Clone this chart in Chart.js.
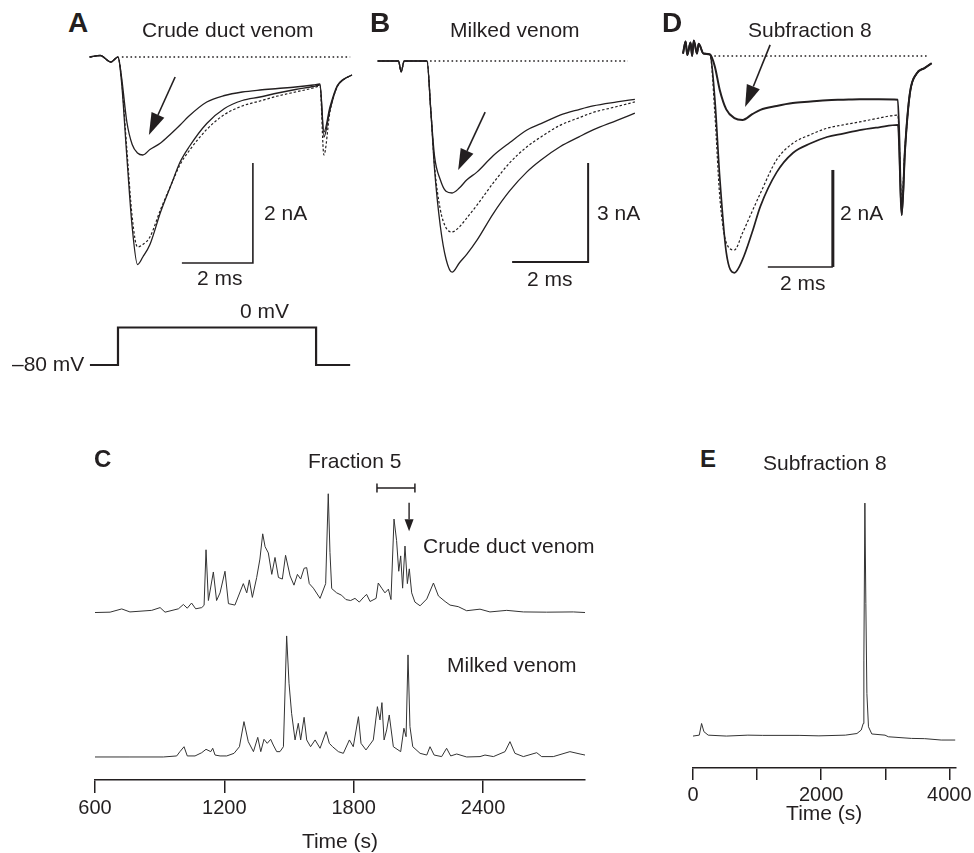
<!DOCTYPE html>
<html>
<head>
<meta charset="utf-8">
<script src="https://cdn.jsdelivr.net/npm/chart.js@4.4.1/dist/chart.umd.min.js"></script>
<style>
  html, body { margin: 0; padding: 0; background: #fff; }
  #fig { position: relative; width: 974px; height: 853px; overflow: hidden; background: #fff;
         font-family: "Liberation Sans", Arial, Helvetica, sans-serif; color: #231f20; }
  #fig canvas { position: absolute; }
  .lbl { position: absolute; font-size: 21px; line-height: 1; white-space: nowrap; }
  .pnl { position: absolute; font-weight: bold; line-height: 1; }
</style>
</head>
<body>
<div id="fig">
  <canvas id="cA" width="280" height="250" style="left:80px;top:40px"></canvas>
  <canvas id="cB" width="270" height="250" style="left:370px;top:40px"></canvas>
  <canvas id="cD" width="280" height="260" style="left:670px;top:30px"></canvas>
  <canvas id="cStep" width="280" height="80" style="left:80px;top:300px"></canvas>
  <canvas id="cCrude" width="540" height="155" style="left:60px;top:470px"></canvas>
  <canvas id="cMilk" width="540" height="230" style="left:60px;top:625px"></canvas>
  <canvas id="cE" width="305" height="347" style="left:670px;top:480px"></canvas>

  <div class="pnl" style="left:68px;top:9px;font-size:28px">A</div>
  <div class="pnl" style="left:370px;top:9px;font-size:28px">B</div>
  <div class="pnl" style="left:662px;top:9px;font-size:28px">D</div>
  <div class="pnl" style="left:94px;top:447px;font-size:24px">C</div>
  <div class="pnl" style="left:700px;top:447px;font-size:24px">E</div>

  <div class="lbl" style="left:142px;top:19px">Crude duct venom</div>
  <div class="lbl" style="left:450px;top:19px">Milked venom</div>
  <div class="lbl" style="left:748px;top:19px">Subfraction 8</div>
  <div class="lbl" style="left:264px;top:202px">2 nA</div>
  <div class="lbl" style="left:197px;top:267px">2 ms</div>
  <div class="lbl" style="left:597px;top:202px">3 nA</div>
  <div class="lbl" style="left:527px;top:268px">2 ms</div>
  <div class="lbl" style="left:840px;top:202px">2 nA</div>
  <div class="lbl" style="left:780px;top:272px">2 ms</div>
  <div class="lbl" style="left:240px;top:300px">0 mV</div>
  <div class="lbl" style="left:12px;top:353px">–80 mV</div>
  <div class="lbl" style="left:308px;top:450px">Fraction 5</div>
  <div class="lbl" style="left:423px;top:535px">Crude duct venom</div>
  <div class="lbl" style="left:447px;top:654px">Milked venom</div>
  <div class="lbl" style="left:763px;top:452px">Subfraction 8</div>
</div>

<script>
// ---- currents (nA) vs time (ms) after the step to 0 mV ----
const timeA  = [-0.8, -0.5, -0.2, 0, 0.1, 0.25, 0.4, 0.55, 0.7, 0.9, 1.2, 1.5, 1.75, 2.0, 2.5, 3.0, 3.5, 4.0, 4.5, 5.0, 5.5, 5.69, 5.8, 5.97, 6.17, 6.34, 6.59];
const ctrlA  = [0, 0.03, -0.1, 0, -0.5, -2.0, -3.4, -4.15, -4.0, -3.75, -3.1, -2.55, -2.1, -1.8, -1.33, -1.03, -0.87, -0.8, -0.72, -0.65, -0.59, -0.56, -1.6, -1.06, -0.6, -0.46, -0.36];
const washA  = [0, 0.03, -0.1, 0, -0.45, -1.85, -3.2, -3.8, -3.75, -3.6, -3.05, -2.55, -2.15, -1.88, -1.45, -1.15, -0.98, -0.88, -0.78, -0.7, -0.62, -0.58, -1.96, -1.1, -0.6, -0.46, -0.36];
const toxinA = [0, 0.03, -0.1, 0, -0.4, -1.3, -1.75, -1.92, -1.96, -1.85, -1.72, -1.53, -1.36, -1.18, -0.9, -0.77, -0.7, -0.66, -0.63, -0.6, -0.56, -0.54, -1.5, -1.0, -0.58, -0.45, -0.36];

const timeB  = [-1.3, -0.75, -0.68, -0.6, 0, 0.1, 0.2, 0.35, 0.5, 0.66, 0.85, 1.05, 1.32, 1.74, 2.18, 2.63, 3.0, 3.5, 4.0, 4.37, 5.0, 5.47];
const ctrlB  = [0, 0, -0.33, 0, 0, -1.5, -3.3, -5.0, -6.0, -6.4, -6.12, -5.85, -5.42, -4.63, -3.93, -3.36, -3.0, -2.6, -2.3, -2.09, -1.8, -1.58];
const washB  = [0, 0, -0.33, 0, 0, -1.5, -3.2, -4.5, -5.05, -5.18, -5.03, -4.75, -4.36, -3.7, -3.08, -2.6, -2.3, -1.95, -1.72, -1.56, -1.38, -1.24];
const toxinB = [0, 0, -0.33, 0, 0, -1.5, -2.9, -3.6, -3.95, -4.0, -3.85, -3.6, -3.36, -2.87, -2.47, -2.09, -1.9, -1.64, -1.47, -1.36, -1.24, -1.16];

const timeD  = [-0.83, -0.75, -0.7, -0.6, -0.55, -0.5, -0.4, -0.35, -0.2, 0, 0.15, 0.3, 0.5, 0.75, 1.0, 1.3, 1.55, 2.05, 2.55, 3.1, 3.6, 4.1, 4.6, 5.2, 5.78, 5.9, 6.0, 6.15, 6.36, 6.6, 6.82];
const ctrlD  = [0.05, 0.3, 0.02, 0.28, 0, 0.32, 0.05, 0.25, 0.05, 0.03, -0.9, -2.5, -4.05, -4.47, -4.2, -3.63, -3.1, -2.4, -2.0, -1.8, -1.67, -1.6, -1.53, -1.47, -1.42, -3.28, -1.94, -0.77, -0.36, -0.25, -0.15];
const washD  = [0.05, 0.3, 0.02, 0.28, 0, 0.32, 0.05, 0.25, 0.05, 0.03, -1.2, -2.9, -3.85, -4.0, -3.65, -3.2, -2.83, -2.14, -1.8, -1.62, -1.49, -1.42, -1.36, -1.28, -1.22, -3.0, -1.9, -0.8, -0.36, -0.25, -0.15];
const toxinD = [0.05, 0.3, 0.02, 0.28, 0, 0.32, 0.05, 0.25, 0.05, 0.03, -0.22, -0.7, -1.1, -1.28, -1.32, -1.2, -1.11, -1.03, -0.97, -0.94, -0.91, -0.9, -0.89, -0.89, -0.9, -3.28, -1.94, -0.77, -0.36, -0.25, -0.15];

// voltage protocol (ms, mV)
const stepTime = [-0.79, 0, 0, 5.58, 5.58, 6.54];
const stepVolt = [-80, -80, 0, 0, -80, -80];

// ---- chromatograms: absorbance (arbitrary units) vs time (s) ----
const crudeTime = [600, 670, 724, 762, 863, 902, 925, 987, 1010, 1028, 1048, 1067, 1095, 1106, 1115, 1126, 1149, 1164, 1180, 1203, 1219, 1249, 1288, 1304, 1316, 1330, 1350, 1365, 1378, 1389, 1404, 1420, 1435, 1451, 1469, 1484, 1505, 1523, 1539, 1554, 1570, 1582, 1594, 1613, 1644, 1670, 1682, 1690, 1698, 1721, 1744, 1764, 1786, 1806, 1826, 1848, 1860, 1876, 1904, 1914, 1930, 1945, 1961, 1973, 1987, 1999, 2009, 2018, 2027, 2038, 2049, 2058, 2069, 2084, 2108, 2139, 2170, 2193, 2224, 2247, 2285, 2324, 2386, 2432, 2510, 2587, 2695, 2819, 2873];
const crudeAbs  = [0, 0.003, 0.03, 0.005, 0.018, 0.041, 0.003, 0.031, 0.067, 0.036, 0.079, 0.031, 0.041, 0.06, 0.523, 0.1, 0.338, 0.1, 0.164, 0.344, 0.074, 0.062, 0.241, 0.164, 0.272, 0.126, 0.292, 0.446, 0.656, 0.549, 0.497, 0.318, 0.459, 0.292, 0.279, 0.477, 0.305, 0.228, 0.318, 0.279, 0.369, 0.374, 0.241, 0.203, 0.118, 0.241, 0.99, 0.5, 0.2, 0.164, 0.144, 0.108, 0.1, 0.118, 0.087, 0.131, 0.151, 0.092, 0.118, 0.246, 0.203, 0.164, 0.195, 0.108, 0.779, 0.6, 0.344, 0.472, 0.203, 0.554, 0.241, 0.364, 0.164, 0.087, 0.056, 0.113, 0.246, 0.138, 0.092, 0.062, 0.049, 0.015, 0.028, 0.005, 0.018, 0.005, 0.003, 0.005, 0];

const milkTime = [600, 762, 917, 979, 994, 1013, 1028, 1064, 1095, 1115, 1137, 1146, 1157, 1180, 1211, 1245, 1270, 1291, 1311, 1335, 1355, 1369, 1384, 1399, 1415, 1427, 1443, 1458, 1474, 1489, 1500, 1512, 1528, 1543, 1554, 1570, 1582, 1600, 1621, 1644, 1672, 1687, 1702, 1729, 1752, 1780, 1798, 1822, 1834, 1857, 1891, 1910, 1922, 1931, 1941, 1953, 1965, 1984, 2018, 2033, 2043, 2052, 2061, 2074, 2108, 2139, 2154, 2173, 2208, 2231, 2250, 2278, 2324, 2386, 2409, 2448, 2502, 2525, 2548, 2587, 2649, 2672, 2726, 2803, 2850, 2873];
const milkAbs  = [0, 0, 0, 0.008, 0.041, 0.079, 0.008, 0.008, 0.033, 0.059, 0.041, 0.067, 0.015, 0.008, 0.008, 0.028, 0.079, 0.272, 0.118, 0.041, 0.151, 0.041, 0.136, 0.105, 0.136, 0.092, 0.041, 0.041, 0.079, 0.931, 0.567, 0.336, 0.131, 0.259, 0.131, 0.305, 0.131, 0.079, 0.131, 0.067, 0.195, 0.105, 0.079, 0.041, 0.028, 0.131, 0.079, 0.31, 0.105, 0.054, 0.131, 0.387, 0.285, 0.418, 0.131, 0.208, 0.323, 0.079, 0.041, 0.221, 0.156, 0.785, 0.233, 0.079, 0.028, 0.015, 0.079, 0.015, 0.003, 0.067, 0.008, 0.023, 0, 0.003, 0.015, 0.003, 0.041, 0.118, 0.028, 0.003, 0.033, 0.003, 0.003, 0.041, 0.023, 0.015];

const subTime = [0, 98, 134, 170, 237, 521, 856, 1088, 1655, 1965, 2377, 2558, 2625, 2656, 2666, 2682, 2697, 2713, 2738, 2790, 2996, 3048, 3409, 3615, 3873, 4095];
const subAbs  = [0, 0.004, 0.054, 0.019, 0.004, 0, 0.004, 0.003, 0.003, 0.001, 0.004, 0.011, 0.026, 0.054, 0.326, 1.0, 0.569, 0.183, 0.04, 0.009, 0.004, -0.003, -0.01, -0.011, -0.017, -0.017];

// tick marks on the time axes
const ticksC = [600, 1200, 1800, 2400];
const ticksE = [0, 1000, 2000, 3000, 4000];
const labelledE = [0, 2000, 4000];

const ink = '#231f20';
const fontFamily = '"Liberation Sans", Arial, Helvetica, sans-serif';

function pts(xs, ys) {
  return xs.map((x, i) => ({ x: x, y: ys[i] }));
}

// arrows given in data units of the chart they sit in
const arrowPlugin = {
  id: 'arrows',
  afterDatasetsDraw(chart, args, opts) {
    const items = opts.items || [];
    const ctx = chart.ctx, sx = chart.scales.x, sy = chart.scales.y;
    ctx.save();
    items.forEach(a => {
      const x0 = sx.getPixelForValue(a.from[0]), y0 = sy.getPixelForValue(a.from[1]);
      const x1 = sx.getPixelForValue(a.to[0]), y1 = sy.getPixelForValue(a.to[1]);
      const ang = Math.atan2(y1 - y0, x1 - x0);
      const bx = x1 - a.head * Math.cos(ang), by = y1 - a.head * Math.sin(ang);
      ctx.strokeStyle = ink;
      ctx.fillStyle = ink;
      ctx.lineWidth = a.lw || 1.6;
      ctx.beginPath(); ctx.moveTo(x0, y0); ctx.lineTo(bx, by); ctx.stroke();
      ctx.beginPath();
      ctx.moveTo(x1, y1);
      ctx.lineTo(bx + a.half * Math.sin(ang), by - a.half * Math.cos(ang));
      ctx.lineTo(bx - a.half * Math.sin(ang), by + a.half * Math.cos(ang));
      ctx.closePath(); ctx.fill();
    });
    ctx.restore();
  }
};
Chart.register(arrowPlugin);

function baseOptions(xr, yr, pad) {
  return {
    responsive: false,
    animation: false,
    events: [],
    layout: { padding: pad || 0 },
    plugins: { legend: { display: false }, tooltip: { enabled: false }, arrows: { items: [] } },
    elements: { point: { radius: 0 }, line: { borderColor: ink, borderWidth: 1.3 } },
    scales: {
      x: { type: 'linear', min: xr[0], max: xr[1], display: false },
      y: { type: 'linear', min: yr[0], max: yr[1], display: false }
    }
  };
}

function trace(data, extra) {
  return Object.assign({ data: data, borderColor: ink, borderWidth: 1.3, pointRadius: 0,
    cubicInterpolationMode: 'monotone', fill: false }, extra || {});
}
const dashed = { borderDash: [2.5, 2], borderWidth: 1.2 };
const zeroLine = { borderDash: [1.6, 2.7], borderWidth: 1.6, cubicInterpolationMode: 'default' };

// scale bar: corner (t, i), lengths dt (ms) and di (nA)
function scaleBar(t, i, dt, di, w) {
  return trace([{ x: t - dt, y: i }, { x: t, y: i }, { x: t, y: i + di }],
    { borderWidth: w || 1.6, cubicInterpolationMode: 'default', borderJoinStyle: 'miter' });
}

// ---- panel A ----
const optA = baseOptions([-1.070, 6.817], [-4.66, 0.34]);
optA.plugins.arrows.items = [{ from: [1.61, -0.40], to: [0.87, -1.56], head: 22, half: 7 }];
new Chart(document.getElementById('cA'), {
  type: 'line',
  data: { datasets: [
    trace([{ x: 0.11, y: 0 }, { x: 6.54, y: 0 }], zeroLine),
    trace(pts(timeA, washA), dashed),
    trace(pts(timeA, ctrlA)),
    trace(pts(timeA, toxinA)),
    scaleBar(3.80, -4.12, 2, 2, 1.6)
  ] },
  options: optA
});

// ---- panel B ----
const optB = baseOptions([-1.5, 5.605], [-6.939, 0.636]);
optB.plugins.arrows.items = [{ from: [1.53, -1.55], to: [0.82, -3.30], head: 21, half: 7 }];
new Chart(document.getElementById('cB'), {
  type: 'line',
  data: { datasets: [
    trace([{ x: 0.08, y: 0 }, { x: 5.29, y: 0 }], zeroLine),
    trace(pts(timeB, washB), dashed),
    trace(pts(timeB, ctrlB)),
    trace(pts(timeB, toxinB)),
    scaleBar(4.24, -6.09, 2, 3, 2)
  ] },
  options: optB
});

// ---- panel D ----
const optD = baseOptions([-1.231, 7.385], [-4.825, 0.536]);
optD.plugins.arrows.items = [{ from: [1.85, 0.23], to: [1.08, -1.05], head: 22, half: 7 }];
new Chart(document.getElementById('cD'), {
  type: 'line',
  data: { datasets: [
    trace([{ x: 0, y: 0 }, { x: 6.71, y: 0 }], zeroLine),
    trace(pts(timeD, washD), dashed),
    trace(pts(timeD, ctrlD), { borderWidth: 1.7 }),
    trace(pts(timeD, toxinD), { borderWidth: 2 }),
    scaleBar(3.78, -4.35, 2, 0, 1.6),
    trace([{ x: 3.78, y: -4.35 }, { x: 3.78, y: -2.35 }], { borderWidth: 3, cubicInterpolationMode: 'default' })
  ] },
  options: optD
});

// ---- voltage step ----
new Chart(document.getElementById('cStep'), {
  type: 'line',
  data: { datasets: [
    trace(pts(stepTime, stepVolt), { borderWidth: 2.2, cubicInterpolationMode: 'default', borderJoinStyle: 'miter' })
  ] },
  options: baseOptions([-1.070, 6.817], [-112, 58.6])
});

// ---- panel C: crude duct venom ----
const optCrude = baseOptions([600, 2873], [-0.054, 1.138], { left: 35, right: 15 });
optCrude.plugins.arrows.items = [{ from: [2057, 0.915], to: [2057, 0.677], head: 12, half: 4.5, lw: 1.4 }];
new Chart(document.getElementById('cCrude'), {
  type: 'line',
  data: { datasets: [
    trace(pts(crudeTime, crudeAbs), { borderColor: '#333', borderWidth: 1, cubicInterpolationMode: 'default' }),
    trace([{ x: 1908, y: 1.038 }, { x: 2084, y: 1.038 }], {
      borderWidth: 1.5, cubicInterpolationMode: 'default',
      pointStyle: 'line', pointRotation: 90, pointRadius: 4.5, pointBorderWidth: 1.5, pointBorderColor: ink
    })
  ] },
  options: optCrude
});

function timeAxis(xr, tickList, height, labelFn) {
  return {
    type: 'linear', min: xr[0], max: xr[1], display: true,
    border: { display: true, color: ink, width: 1.5 },
    grid: { drawOnChartArea: false, drawTicks: true, tickLength: 13, tickColor: ink, tickWidth: 1.5, lineWidth: 1.5 },
    ticks: { autoSkip: false, maxRotation: 0, padding: 3,
      color: ink, font: { family: fontFamily, size: 20 }, callback: labelFn },
    afterBuildTicks: s => { s.ticks = tickList.map(v => ({ value: v })); },
    title: { display: true, text: 'Time (s)', color: ink, font: { family: fontFamily, size: 21 }, padding: 0 },
    afterFit: s => { s.height = height; }
  };
}

// ---- panel C: milked venom + time axis ----
const optMilk = baseOptions([600, 2873], [-0.177, 1.015], { left: 35, right: 15 });
optMilk.scales.x = timeAxis([600, 2873], ticksC, 75, v => String(v));
new Chart(document.getElementById('cMilk'), {
  type: 'line',
  data: { datasets: [
    trace(pts(milkTime, milkAbs), { borderColor: '#333', borderWidth: 1, cubicInterpolationMode: 'default' })
  ] },
  options: optMilk
});

// ---- panel E ----
const optE = baseOptions([0, 4095], [-0.137, 1.099], { left: 23, right: 17 });
optE.scales.x = timeAxis([0, 4095], ticksE, 59, v => (labelledE.includes(v) ? String(v) : ''));
optE.scales.x.grid.tickLength = 12;
new Chart(document.getElementById('cE'), {
  type: 'line',
  data: { datasets: [
    trace(pts(subTime, subAbs), { borderColor: '#333', borderWidth: 1, cubicInterpolationMode: 'default' })
  ] },
  options: optE
});
</script>
</body>
</html>
